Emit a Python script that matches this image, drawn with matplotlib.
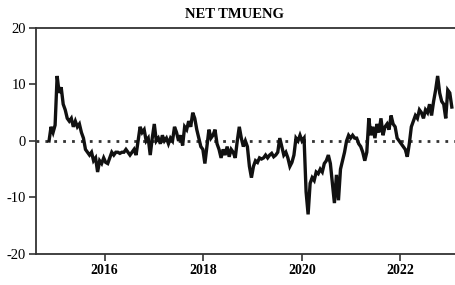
import matplotlib
matplotlib.use('Agg')
import matplotlib.pyplot as plt
import pandas as pd

plt.rcParams['font.family'] = 'Liberation Serif'
plt.rcParams['axes.unicode_minus'] = False

# net TMUENG, every 15 days from mid Nov 2014
values = [0.0, 2.5, 1.5, 2.8, 11.5, 8.5, 9.5, 6.5, 5.5, 4.0,
          3.5, 4.0, 2.5, 3.5, 2.5, 3.0, 1.5, 0.5, -1.5, -2.0,
          -2.5, -2.0, -3.5, -3.0, -5.5, -3.5, -4.0, -3.0, -3.8, -4.0,
          -3.0, -2.0, -2.5, -2.0, -2.0, -2.2, -2.0, -2.0, -1.5, -2.0,
          -2.5, -2.0, -1.5, -2.5, 0.0, 2.5, 1.5, 2.0, 0.0, 0.5,
          -2.5, 0.5, 3.0, 0.0, 0.5, -0.5, 1.0, 0.0, 0.5, -0.5,
          0.5, 0.0, 2.5, 1.5, 0.0, 1.0, -0.8, 2.5, 2.0, 3.5,
          2.5, 5.0, 4.0, 2.0, 0.5, -1.0, -1.5, -4.0, -1.0, 2.0,
          0.5, 1.0, 2.0, -0.5, -1.5, -3.0, -1.5, -2.5, -1.0, -2.8,
          -1.5, -2.0, -3.0, 0.0, 2.5, 0.5, -1.0, 0.0, -1.0, -4.5,
          -6.5, -4.5, -3.5, -3.8, -3.0, -3.2, -3.0, -2.5, -3.0, -2.5,
          -2.2, -2.8, -2.5, -2.0, 0.5, -1.0, -2.5, -2.0, -3.0, -4.5,
          -3.8, -2.5, 0.5, 0.0, 1.0, 0.0, 0.5, -9.0, -13.0, -7.5,
          -6.5, -7.0, -5.5, -5.8, -5.0, -5.5, -4.0, -3.5, -2.5, -4.0,
          -7.5, -11.0, -6.0, -10.5, -5.0, -3.5, -2.0, 0.0, 1.0, 0.5,
          1.0, 0.5, 0.5, -0.5, -1.0, -2.0, -3.5, -2.0, 4.0, 1.0,
          2.5, 0.5, 3.0, 1.5, 4.0, 1.0, 2.5, 3.0, 2.0, 4.5,
          3.0, 2.5, 0.5, 0.0, -0.5, -1.0, -1.5, -2.8, -0.5, 2.5,
          3.5, 4.5, 4.0, 5.5, 5.0, 4.0, 5.5, 5.0, 6.5, 4.5,
          7.0, 9.0, 11.5, 8.5, 7.0, 6.5, 4.0, 9.0, 8.5, 6.0]
dates = pd.date_range('2014-11-15', periods=len(values), freq='15D')

year_ticks = ['2016', '2018', '2020', '2022']
y_ticks = [-20, -10, 0, 10, 20]

fig = plt.figure(figsize=(4.55, 2.85), dpi=100)
ax = fig.add_axes([0.079, 0.109, 0.93, 0.793])

ax.plot(dates, values, color='#111111', lw=2.4, solid_joinstyle='miter')
ax.axhline(0, color='#333333', lw=2.0, ls=(0, (1, 2.2)), zorder=0)

ax.set_xlim(pd.Timestamp('2014-08-10'), pd.Timestamp('2023-03-12'))
ax.set_ylim(-20, 20)
ax.set_yticks(y_ticks)
ax.set_yticklabels([str(v) for v in y_ticks], fontsize=10.5)
ax.set_xticks([pd.Timestamp(y + '-01-01') for y in year_ticks])
ax.set_xticklabels(year_ticks, fontsize=10, fontweight='bold')

for s in ['left', 'bottom', 'top']:
    ax.spines[s].set_color('#333333')
    ax.spines[s].set_linewidth(1.3)
ax.spines['right'].set_visible(False)
ax.tick_params(axis='both', direction='out', length=5, width=1.2, color='#333333', pad=2)

fig.text(0.516, 0.95, 'NET TMUENG', ha='center', va='center', fontsize=10.5, fontweight='bold')

plt.savefig('out.png', dpi=100)
